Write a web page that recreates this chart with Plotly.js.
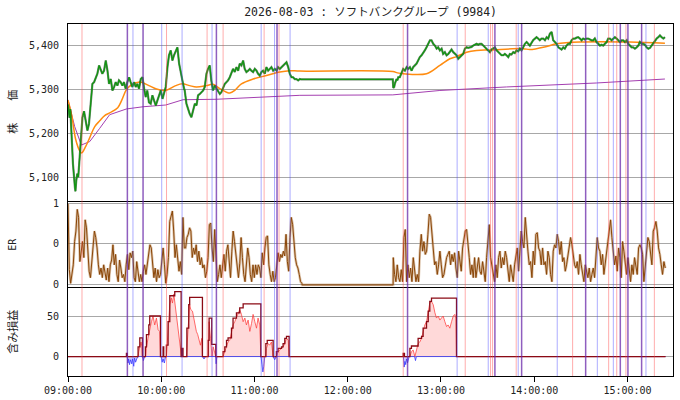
<!DOCTYPE html>
<html><head><meta charset="utf-8">
<script src="https://cdn.plot.ly/plotly-3.0.1.min.js"></script>
<style>body{margin:0;background:#fff}#chart{width:680px;height:400px}</style>
</head><body><div id="chart"></div>
<script>
const DAY = '2026-08-03';
const TITLE = '2026-08-03 : ソフトバンクグループ (9984)';
// times are minutes after 09:00:00
const priceData = [[0,5265],[0.5,5250],[1,5235],[1.5,5255],[2.4,5183],[3.2,5130],[4.5,5075],[4.8,5068],[5.3,5092],[6,5108],[6.6,5100],[7.5,5145],[8.2,5162],[9.3,5236],[10.3,5250],[11.4,5228],[12.5,5206],[13.5,5221],[14.6,5267],[15.7,5312],[16.8,5316],[17.8,5327],[18.9,5335],[20,5354],[21,5346],[22.1,5335],[23.2,5342],[24.3,5365],[25.4,5342],[26.4,5312],[27.5,5323],[28.6,5297],[29.7,5305],[30.7,5316],[31.8,5308],[32.8,5320],[33.9,5316],[35,5308],[36,5316],[37.1,5301],[38.2,5316],[39.3,5327],[40.3,5316],[41.4,5305],[42.5,5316],[43.6,5305],[44.6,5312],[45.7,5301],[46.8,5323],[47.9,5327],[49,5301],[50,5282],[51,5297],[52.1,5270],[53.2,5267],[54.3,5286],[55.4,5274],[56.5,5263],[57.5,5274],[58.6,5286],[59.7,5297],[60.8,5278],[61.8,5289],[62.9,5305],[64,5350],[65,5377],[66.1,5388],[67.2,5365],[68.2,5377],[69.3,5388],[70.4,5395],[71.5,5358],[72.5,5335],[73.6,5320],[74.7,5301],[75.1,5297],[76.2,5267],[77.3,5252],[78.3,5244],[79.4,5236],[80.5,5252],[81.6,5267],[82.7,5263],[83.7,5286],[84.8,5289],[85.9,5293],[87,5297],[88,5305],[89.1,5335],[90.1,5346],[91.2,5354],[92.2,5320],[93.3,5297],[94.4,5308],[95.5,5301],[96.6,5293],[97.7,5289],[98.7,5293],[99.8,5305],[100.9,5312],[102,5316],[103,5320],[104.1,5327],[105.2,5335],[106.2,5346],[107.3,5339],[108.4,5350],[109.5,5342],[110.5,5358],[111.6,5354],[112.7,5365],[113.7,5346],[114.8,5339],[115.9,5342],[117,5346],[118,5342],[119.1,5339],[120.2,5346],[121.3,5342],[122.3,5335],[123.4,5331],[124.5,5339],[125.5,5342],[126.6,5335],[127.7,5350],[128.8,5342],[129.8,5346],[130.9,5350],[132,5342],[133.1,5346],[134.2,5342],[135.2,5350],[136.3,5346],[137.4,5350],[138.4,5354],[139.5,5358],[140.6,5361],[141.7,5350],[142.7,5335],[143.8,5327],[144.8,5327],[145.9,5323],[147,5323],[148.1,5320],[149.2,5323],[150,5322],[209,5322],
[209.3,5303],[209.9,5305],[210.3,5312],[210.9,5316],[211.4,5323],[212,5320],[212.5,5327],[213.5,5327],[214.6,5335],[215.7,5346],[216.8,5342],[217.9,5350],[218.9,5346],[220,5350],[221.1,5342],[222.1,5350],[223.2,5354],[224.3,5358],[225.3,5365],[226.4,5373],[227.5,5377],[228.5,5384],[229.6,5388],[230.7,5395],[231.8,5403],[232.9,5411],[233.9,5411],[235,5403],[236.1,5399],[237.2,5392],[238.2,5395],[239.3,5388],[240.4,5392],[241.4,5380],[242.5,5384],[243.6,5377],[244.7,5380],[245.7,5384],[246.8,5390],[247.9,5384],[248.9,5380],[250,5377],[251.1,5369],[252.2,5373],[253.2,5377],[254.3,5380],[255.4,5392],[256.5,5395],[257.5,5394],[258.6,5395],[259.7,5396],[260.7,5399],[261.8,5401],[262.9,5403],[264,5401],[265,5403],[266.1,5403],[267.2,5399],[268.2,5395],[269.3,5392],[270.4,5388],[271.5,5384],[272.5,5390],[273.6,5392],[274.7,5395],[275.8,5388],[276.8,5384],[277.9,5380],[279,5377],[280.1,5377],[281.1,5380],[282.2,5377],[283.3,5373],[284.3,5380],[285.4,5379],[286.5,5384],[287.5,5382],[288.6,5388],[289.7,5386],[290.8,5392],[291.8,5388],[292.9,5395],[294,5403],[295.1,5407],[296.1,5403],[297.2,5399],[299.3,5411],[301.5,5418],[302.5,5415],[303.6,5411],[304.7,5415],[305.8,5415],[306.9,5411],[308,5418],[309,5415],[310.1,5426],[311.2,5430],[312.2,5411],[313.3,5407],[314.4,5403],[315.5,5395],[316.5,5392],[317.6,5390],[318.7,5395],[319.7,5392],[320.8,5399],[321.9,5403],[323,5403],[324,5411],[325.1,5415],[326.2,5415],[327.3,5417],[328.3,5418],[329.4,5415],[330.5,5411],[331.5,5415],[332.6,5413],[333.7,5415],[334.7,5415],[335.8,5413],[336.9,5411],[338,5411],[339,5415],[340.1,5407],[341.2,5403],[342.3,5399],[343.3,5401],[344.4,5399],[345.5,5403],[346.6,5407],[347.6,5415],[348.7,5415],[349.8,5411],[350.8,5415],[351.9,5418],[353,5415],[354.1,5411],[355.2,5407],[356.2,5411],[357.3,5411],[358.4,5407],[359.5,5411],[360.5,5403],[361.6,5399],[362.7,5395],[363.7,5395],[364.8,5392],[365.9,5395],[367,5399],[368,5407],[369.1,5403],[370.2,5403],[371.2,5401],[372.3,5395],[373.4,5392],[374.5,5394],[375.5,5399],[376.6,5403],[377.7,5411],[378.8,5415],[379.8,5418],[380.9,5422],[382,5418],[383.1,5415],[384.1,5418]];
const maData = [[0,5275],[2.4,5240],[5,5185],[7.5,5160],[8.8,5155],[11.4,5170],[14,5190],[17.2,5215],[20.4,5228],[23.6,5240],[26.8,5246],[32,5258],[34.6,5275],[37.6,5299],[41,5310],[46.2,5316],[52.1,5308],[56.5,5301],[62.9,5297],[69.3,5308],[73.6,5312],[78.3,5308],[82.6,5305],[89,5308],[93.3,5311],[97.7,5301],[102,5293],[104.1,5291],[107.3,5297],[111.6,5312],[119.1,5323],[127.7,5331],[136.3,5339],[142.7,5342],[149.2,5341],[209,5340],[212,5337],[215.7,5335],[230.7,5335],[239.3,5354],[245.7,5369],[250,5374],[256.5,5384],[262.9,5388],[271.5,5389],[292.9,5392],[297.2,5390],[308,5397],[314.4,5403],[329.4,5407],[361.6,5407],[384.1,5404]];
const vwapData = [[0,5276],[4.3,5215],[8.6,5173],[14,5181],[20.4,5211],[26.8,5242],[37.6,5255],[48.3,5260],[62.9,5264],[71.9,5273],[74,5276],[95.5,5277],[127.7,5282],[149.2,5286],[209,5287],[239.3,5297],[282.2,5305],[340,5314],[384.1,5323]];
// ER sampled evenly between start and end minutes
const erAMStart = 0, erAMEnd = 150.5;
const erAM = [1.0,0.18,0.01,0.16,0.24,0.53,0.66,0.93,0.83,0.28,0.41,0.53,0.33,0.80,0.70,0.41,0.16,0.08,0.28,0.45,0.66,0.58,0.45,0.24,0.12,0.20,0.08,0.24,0.12,0.05,0.20,0.03,0.24,0.30,0.49,0.24,0.37,0.12,0.03,0.30,0.20,0.08,0.12,0.03,0.24,0.37,0.18,0.39,0.33,0.41,0.08,0.03,0.28,0.16,0.03,0.12,0.03,0.16,0.24,0.12,0.24,0.37,0.49,0.45,0.28,0.08,0.20,0.03,0.18,0.08,0.12,0.28,0.45,0.24,0.01,0.12,0.33,0.78,0.87,0.91,0.66,0.33,0.49,0.33,0.16,0.28,0.12,0.83,0.45,0.45,0.58,0.62,0.70,0.66,0.33,0.45,0.37,0.49,0.28,0.41,0.24,0.33,0.20,0.24,0.08,0.16,0.33,0.74,0.76,0.45,0.28,0.68,0.41,0.03,0.12,0.24,0.08,0.28,0.37,0.16,0.41,0.49,0.24,0.08,0.41,0.66,0.53,0.37,0.20,0.08,0.26,0.58,0.33,0.12,0.03,0.24,0.45,0.33,0.12,0.03,0.24,0.08,0.24,0.12,0.24,0.20,0.08,0.39,0.24,0.45,0.58,0.60,0.24,0.12,0.03,0.16,0.03,0.08,0.24,0.39,0.28,0.37,0.33,0.41,0.35,0.62,0.28,0.16,0.58,0.83,0.74,0.49,0.33,0.24,0.20,0.12,0.03,0.01];
const erLunch = [[150.6,-0.01],[209.2,-0.01]];
const erPMStart = 209.3, erPMEnd = 384.3;
const erPM = [0.33,0.12,0.03,0.24,0.08,0.03,0.18,0.03,0.58,0.68,0.03,0.24,0.08,0.20,0.03,0.33,0.20,0.03,0.12,0.03,0.41,0.62,0.41,0.53,0.37,0.41,0.62,0.87,0.83,0.62,0.41,0.24,0.28,0.12,0.24,0.41,0.24,0.08,0.12,0.24,0.33,0.37,0.41,0.24,0.37,0.28,0.39,0.20,0.08,0.41,0.24,0.16,0.45,0.58,0.66,0.68,0.53,0.33,0.12,0.24,0.08,0.33,0.08,0.20,0.33,0.16,0.12,0.28,0.16,0.03,0.33,0.58,0.74,0.33,0.24,0.12,0.03,0.24,0.08,0.33,0.41,0.20,0.33,0.24,0.41,0.33,0.20,0.03,0.24,0.12,0.03,0.24,0.37,0.45,0.16,0.45,0.66,0.53,0.45,0.83,0.58,0.41,0.24,0.28,0.08,0.41,0.24,0.62,0.64,0.45,0.41,0.24,0.45,0.24,0.28,0.12,0.41,0.33,0.12,0.03,0.41,0.49,0.45,0.62,0.53,0.37,0.53,0.28,0.33,0.16,0.24,0.37,0.45,0.58,0.49,0.39,0.24,0.20,0.28,0.12,0.37,0.24,0.12,0.03,0.24,0.16,0.08,0.20,0.03,0.12,0.20,0.08,0.33,0.58,0.45,0.41,0.24,0.37,0.12,0.28,0.41,0.53,0.66,0.80,0.58,0.41,0.24,0.35,0.16,0.45,0.33,0.08,0.53,0.41,0.24,0.12,0.33,0.16,0.03,0.24,0.12,0.33,0.24,0.12,0.45,0.49,0.45,0.37,0.03,0.24,0.45,0.58,0.53,0.37,0.24,0.66,0.70,0.78,0.66,0.45,0.37,0.24,0.12,0.28,0.20];
const pnlData = [[0,0],[45.1,0],[45.5,6],[46.2,14],[47,18],[47.6,12],[47.9,0],[50,0],[50.4,10],[51.5,22.5],[52.6,35],[53.7,43],[54.7,50],[55.8,39],[56.9,47.5],[58,33],[59,31],[59.5,0],[63.3,0],[63.8,14],[64.4,35],[65,52],[65.5,64],[66.5,72.5],[67.2,66],[68.1,77],[68.7,68],[69.3,56],[70.2,47.5],[70.8,35],[71.9,18],[72.6,8],[73,0],[76.2,0],[76.8,27],[77.7,47.5],[78.3,64],[79,58],[80.1,56],[80.9,47.5],[81.8,43],[82.6,31],[83.5,27],[84.4,18],[85.2,14],[86.1,22.5],[86.5,0],[90.2,0],[90.8,43],[91.7,22.5],[92.3,6],[92.5,0],[92.7,0],[93.4,12],[94.4,6],[95.1,0],[99.8,0],[100.9,6],[102,14],[103,18],[104.1,20],[105.2,31],[106.2,39],[107.3,43],[108.4,47.5],[109.5,54],[110.5,58],[111.6,52],[112.7,43],[113.8,47.5],[114.8,39],[115.9,45],[117,31],[118.1,41],[119.1,52],[120.2,43],[121.3,35],[122.3,47.5],[123.4,39],[124.1,0],[127.3,0],[127.7,10],[128.8,16],[129.8,14],[130.9,18],[132,0],[134.1,0],[135.2,6],[136.3,8],[137.4,10],[138.4,12],[139.5,16],[140.6,22.5],[141.7,20],[142.3,0],[220,0],[221,6],[222.1,8],[223.2,0],[225.3,16],[226.4,18],[227.5,22.5],[228.5,31],[229.6,39],[230.7,43],[231.8,56],[232.8,66],[233.9,68],[235,64],[236.1,54],[237.1,47.5],[238.2,50],[239.3,45],[240.3,47.5],[241.4,50],[242.5,43],[243.6,37],[244.6,39],[245.7,35],[246.8,43],[247.9,50],[248.9,52],[249.6,47.5],[250,0],[384.5,0]];
const lossData = [[0,0],[38,0],[38.3,-2],[38.6,-8],[39,-3],[39.6,-10],[40.2,-4],[41,-9],[41.5,-3],[42.3,-12],[42.8,-2],[43.5,-7],[44.2,-3],[45,0],[48,0],[48.5,-5],[49,-2],[49.5,0],[60,0],[60.6,-7],[61.2,-3],[62,-8],[62.8,0],[86.6,0],[87.5,-3],[88.5,0],[95,0],[95.3,-9],[95.8,0],[124.2,0],[124.8,-10],[125.4,-19],[126,-12],[126.6,0],[132,0],[133,-4],[134,0],[215.8,0],[216.3,-13],[216.8,-6],[217.3,-10],[217.8,-3],[218.5,-8],[219.5,0],[223,0],[223.6,-5],[224.2,0],[384.5,0]];
const maxPnlData = [[0,0],[37.5,0],[37.6,4],[38.2,0],[45.1,12],[46.2,23],[47.9,0],[49.8,12],[50.5,27],[52,39],[52.6,50],[59.5,0],[61.2,12],[61.6,0],[63.3,14],[64.4,43],[65.5,75],[68.7,80],[72.8,0],[73.5,10],[74,0],[76.5,35],[77.7,64],[78.3,73],[86.5,0],[90.2,20],[90.8,47.5],[92.5,15],[95.1,0],[99.8,6],[100.9,12],[102,20],[103,23],[105.2,35],[106.2,47.5],[108.4,54],[110.5,60],[112.7,65],[124.1,0],[127.3,16],[128.2,20],[132,0],[134.1,6],[135.2,10],[137.4,12],[138.4,16],[139.5,22.5],[140.6,25],[142.3,0],[215.7,4],[216.5,0],[220,10],[221,13],[225.3,22.5],[227.5,25],[228.5,35],[230.7,43],[231.8,56],[232.8,68],[233.9,72],[250,0],[384.5,0]];
const buyLines = [9.0,63.4,89.5,99.8,126.2,135.8,215.7,255.6,271.9,273.2,288.4,324.7,347.9,353.1,359.0,377.3];
const sellLines = [41.8,60.3,73.4,92.7,124.3,132.9,142.9,250.4,270.4,289.7,314.8,340.6,350.9,371.9];
const bothLines = [38.2,48.3,95.5,134.5,218.5,274.7,291.9,333.1,355.4,360.3,369.1];
const priceTicks = [5100,5200,5300,5400];
const erTicks = [0,0.5,1], erTickText = ['0','0','1'];
const pnlTicks = [0,50];
const xTickVals = [0,60,120,180,240,300,360];

function ts(m){
  const s = Math.round(m*60) + 9*3600;
  const p = n => String(n).padStart(2,'0');
  return DAY+' '+p(Math.floor(s/3600))+':'+p(Math.floor(s%3600/60))+':'+p(s%60);
}
const X = d => d.map(r => ts(r[0]));
const Y = d => d.map(r => r[1]);
function even(vals, a, b){ return vals.map((v,i)=>ts(a + (b-a)*i/(vals.length-1))); }

const erX = even(erAM, erAMStart, erAMEnd).concat(X(erLunch), even(erPM, erPMStart, erPMEnd));
const erY = erAM.concat(Y(erLunch), erPM);

const traces = [
  {x:X(vwapData), y:Y(vwapData), xaxis:'x3', yaxis:'y', mode:'lines', line:{color:'#a43fb0', width:1}},
  {x:X(maData), y:Y(maData), xaxis:'x3', yaxis:'y', mode:'lines', line:{color:'#ff8c10', width:1.5, shape:'spline'}},
  {x:X(priceData), y:Y(priceData), xaxis:'x3', yaxis:'y', mode:'lines', line:{color:'rgba(20,60,20,0.6)', width:2.2}},
  {x:X(priceData), y:Y(priceData), xaxis:'x3', yaxis:'y', mode:'lines', line:{color:'#129612', width:1.3}},
  {x:erX, y:erY, xaxis:'x2', yaxis:'y2', mode:'lines', line:{color:'rgba(170,110,50,0.4)', width:2.6}},
  {x:erX, y:erY, xaxis:'x2', yaxis:'y2', mode:'lines', line:{color:'#8a4608', width:1}},
  {x:X(pnlData), y:Y(pnlData), xaxis:'x', yaxis:'y3', mode:'lines', fill:'tozeroy', fillcolor:'rgba(255,80,80,0.22)', line:{color:'rgba(255,60,60,0.75)', width:1}},
  {x:X(lossData), y:Y(lossData), xaxis:'x', yaxis:'y3', mode:'lines', fill:'tozeroy', fillcolor:'rgba(60,60,255,0.25)', line:{color:'rgba(50,50,255,0.75)', width:1}},
  {x:X(maxPnlData), y:Y(maxPnlData), xaxis:'x', yaxis:'y3', mode:'lines', line:{color:'#8b0a14', width:1.3, shape:'hv'}}
];

const shapes = [];
function vl(list, color, w){ list.forEach(t => shapes.push({type:'line', xref:'x', yref:'paper', x0:ts(t), x1:ts(t), y0:0, y1:1, line:{color:color, width:w}, layer:'above'})); }
vl(buyLines, 'rgba(255,70,70,0.45)', 1);
vl(sellLines, 'rgba(70,70,255,0.45)', 1);
vl(bothLines, 'rgba(105,40,170,0.75)', 1.5);

const monoFont = {family:'DejaVu Sans Mono, Noto Sans CJK JP, monospace', size:10, color:'#222'};
const xRange = [ts(0), ts(389.3)];
const baseX = {type:'date', range:xRange, showgrid:false, showline:true, mirror:true, linecolor:'#000', linewidth:1, zeroline:false, fixedrange:true};
const baseY = {showgrid:true, gridcolor:'#a8a8a8', gridwidth:1, showline:true, mirror:true, linecolor:'#000', linewidth:1, zeroline:false, ticks:'outside', ticklen:6, tickcolor:'rgba(0,0,0,0)', tickfont:monoFont};
const layout = {
  width:680, height:400, margin:{l:68, r:7, t:24, b:24},
  paper_bgcolor:'#fff', plot_bgcolor:'#fff', showlegend:false,
  title:{text:TITLE, font:{family:'DejaVu Sans Mono, Noto Sans CJK JP, monospace', size:11.5, color:'#222'}, x:0.545, xref:'container', xanchor:'center', y:0.97, yref:'container', yanchor:'middle'},
  xaxis: Object.assign({}, baseX, {anchor:'y3', tickmode:'array', tickvals:xTickVals.map(ts), ticktext:xTickVals.map(m=>ts(m).slice(11)), ticks:'outside', ticklen:5, tickcolor:'#000', tickfont:monoFont}),
  xaxis2: Object.assign({}, baseX, {anchor:'y2', matches:'x', showticklabels:false, ticks:'', showline:false}),
  xaxis3: Object.assign({}, baseX, {anchor:'y', matches:'x', showticklabels:false, ticks:''}),
  yaxis: Object.assign({}, baseY, {domain:[0.4985,1], range:[5047,5448], tickvals:priceTicks, tickformat:',d'}),
  yaxis2: Object.assign({}, baseY, {domain:[0.251,0.4985], range:[-0.044,1.04], tickvals:erTicks, ticktext:erTickText, tickmode:'array'}),
  yaxis3: Object.assign({}, baseY, {domain:[0,0.251], range:[-24,85], tickvals:pnlTicks}),
  shapes: shapes,
  annotations: [
    {text:'株　　価', xref:'paper', yref:'paper', x:-0.093, y:0.75, textangle:-90, showarrow:false, xanchor:'center', yanchor:'middle', font:{family:'Noto Sans CJK JP', size:11, color:'#222'}},
    {text:'ER', xref:'paper', yref:'paper', x:-0.093, y:0.375, textangle:-90, showarrow:false, xanchor:'center', yanchor:'middle', font:{family:'DejaVu Sans Mono', size:10, color:'#222'}},
    {text:'含み損益', xref:'paper', yref:'paper', x:-0.093, y:0.125, textangle:-90, showarrow:false, xanchor:'center', yanchor:'middle', font:{family:'Noto Sans CJK JP', size:11, color:'#222'}}
  ]
};
Plotly.newPlot('chart', traces, layout, {staticPlot:true, displayModeBar:false});
</script>
</body></html>
